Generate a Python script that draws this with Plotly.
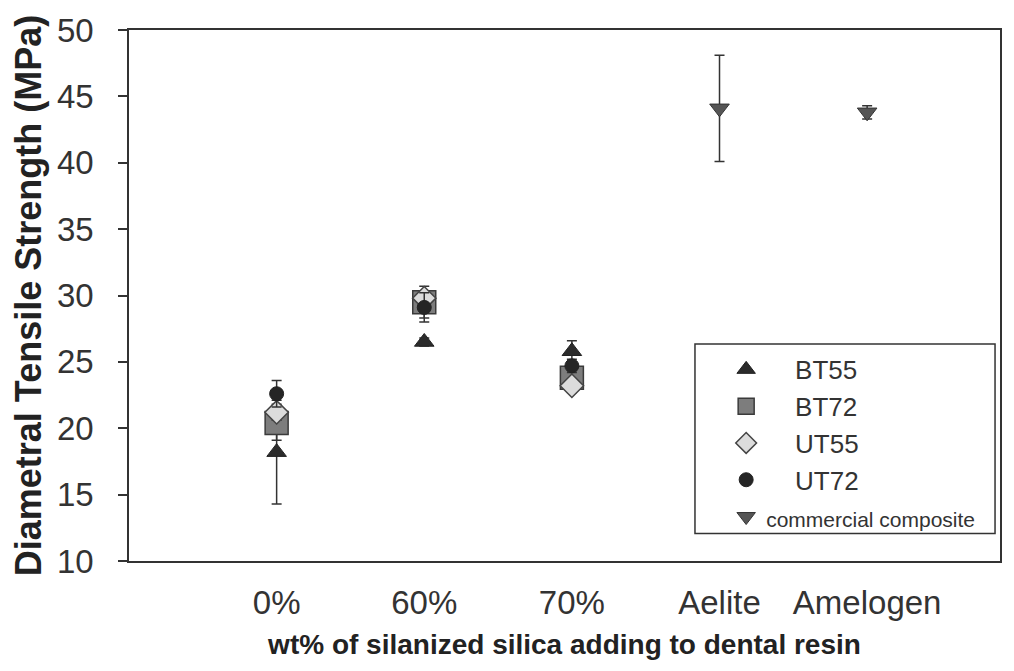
import plotly.graph_objects as go

# Category labels along the x axis
categories = ["0%", "60%", "70%", "Aelite", "Amelogen"]
resin_groups = ["0%", "60%", "70%"]
commercial_groups = ["Aelite", "Amelogen"]

# Mean diametral tensile strength (MPa) and standard deviation per series
bt55_mean = [18.2, 26.5, 25.8]
bt55_sd = [3.9, 0.3, 0.8]
bt72_mean = [20.4, 29.5, 23.8]
bt72_sd = [1.3, 1.2, 0.6]
ut55_mean = [21.2, 29.8, 23.2]
ut55_sd = [0.6, 0.5, 0.5]
ut72_mean = [22.6, 29.1, 24.7]
ut72_sd = [1.0, 1.1, 0.5]
commercial_mean = [44.1, 43.8]
commercial_sd = [4.0, 0.5]

pos = {c: i for i, c in enumerate(categories)}
FONT = "Liberation Sans, Arial, sans-serif"
PAD = "\u00a0" * 4


def err(sd):
    return dict(type="data", array=sd, visible=True, color="#333333",
                thickness=1.5, width=5)


fig = go.Figure()

series = [
    ("BT55", bt55_mean, bt55_sd, dict(symbol="triangle-up", size=17, color="#2b2b2b",
                                       line=dict(color="#222222", width=1))),
    ("BT72", bt72_mean, bt72_sd, dict(symbol="square", size=23, color="#7d7d7d",
                                       line=dict(color="#3a3a3a", width=1.5))),
    ("UT55", ut55_mean, ut55_sd, dict(symbol="diamond", size=18, color="#dcdcdc",
                                       line=dict(color="#444444", width=1.5))),
    ("UT72", ut72_mean, ut72_sd, dict(symbol="circle", size=14, color="#252525",
                                       line=dict(color="#222222", width=1))),
]
for name, mean, sd, marker in series:
    fig.add_trace(go.Scatter(
        x=[pos[c] for c in resin_groups], y=mean, mode="markers",
        name=PAD + name, marker=marker, error_y=err(sd),
    ))

fig.add_trace(go.Scatter(
    x=[pos[c] for c in commercial_groups], y=commercial_mean, mode="markers",
    name='<span style="font-size:21px">commercial composite</span>',
    marker=dict(symbol="triangle-down", size=17, color="#555555",
                line=dict(color="#333333", width=1)),
    error_y=err(commercial_sd),
))

# Frame around the legend entries
fig.add_shape(type="rect", xref="paper", yref="paper",
              x0=0.6498, x1=0.9943, y0=0.0518, y1=0.4085,
              line=dict(color="#333333", width=1.5), fillcolor="rgba(0,0,0,0)")

fig.update_layout(
    width=1014, height=671,
    margin=dict(l=129, r=14, t=20, b=110),
    paper_bgcolor="white", plot_bgcolor="white",
    font=dict(family=FONT, color="#333333"),
    showlegend=True,
    legend=dict(
        x=0.6856, y=0.405, xanchor="left", yanchor="top",
        borderwidth=0, bgcolor="rgba(0,0,0,0)",
        font=dict(size=26, family=FONT, color="#333333"),
        itemwidth=30, tracegroupgap=0,
    ),
    xaxis=dict(
        range=[-1, 4.9], tickmode="array",
        tickvals=[pos[c] for c in categories], ticktext=categories,
        showgrid=False, zeroline=False, ticks="",
        showline=True, linecolor="#333333", linewidth=1.5, mirror=True,
        tickfont=dict(size=33, family=FONT, color="#333333"),
        ticklabelstandoff=12,
        title=dict(text="<b>wt% of silanized silica adding to dental resin</b>",
                   font=dict(size=28, family=FONT, color="#222222"), standoff=14),
    ),
    yaxis=dict(
        range=[10, 50], tickmode="linear", tick0=10, dtick=5,
        showgrid=False, zeroline=False, ticks="outside", ticklen=9,
        tickcolor="#333333", tickwidth=1.5,
        showline=True, linecolor="#333333", linewidth=1.5, mirror=True,
        tickfont=dict(size=33, family=FONT, color="#333333"),
        ticklabelstandoff=18,
        title=dict(text="<b>Diametral Tensile Strength (MPa)</b>",
                   font=dict(size=36, family=FONT, color="#222222"), standoff=4),
    ),
)

fig.write_html("out.html")
